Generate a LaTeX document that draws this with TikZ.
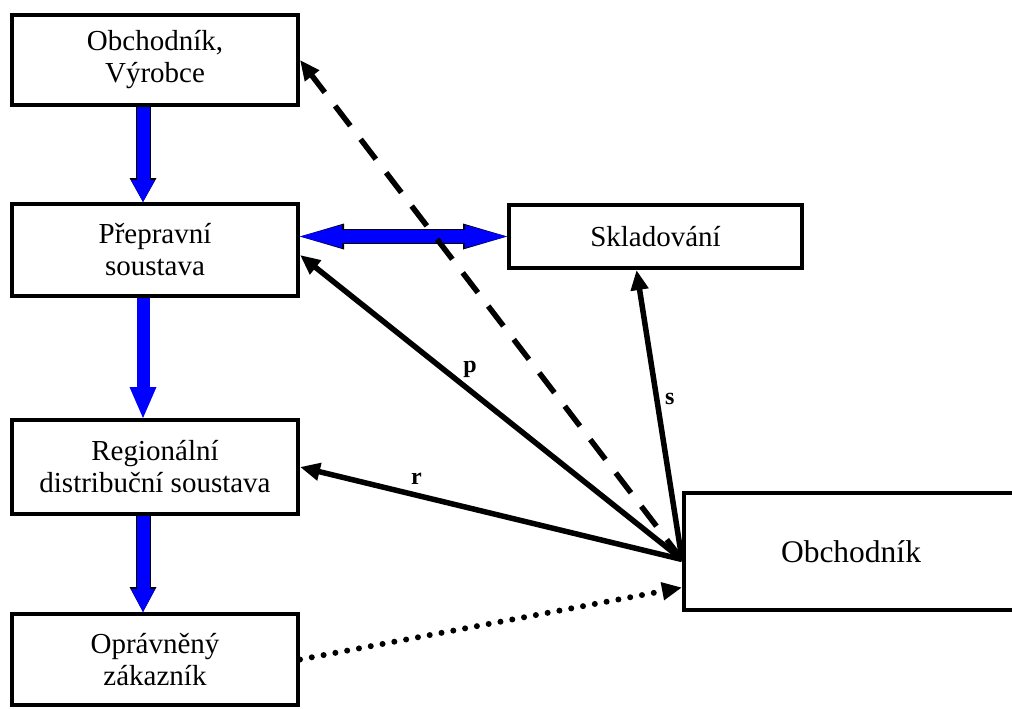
\documentclass[tikz,border=0pt]{standalone}
\usepackage{fontspec}
\setmainfont{Liberation Serif}
\usetikzlibrary{arrows.meta}
\definecolor{flowblue}{RGB}{0,0,255}
\tikzset{
  box/.style={draw, line width=4pt, rectangle, inner sep=0pt, align=center,
    minimum width=286pt, font=\fontsize{29}{32}\selectfont},
  link/.style={line width=5.5pt, -{Triangle[length=20pt,width=17pt]}},
  lbl/.style={inner sep=0pt, font=\fontsize{24}{24}\selectfont\bfseries},
  flow/.style 2 args={line width=13pt, flowblue, -{Triangle[length=#1,width=#2,line width=0pt]}},
  rim/.style 2 args={preaction={draw=black, line width=15pt, -{Triangle[length=#1,width=#2,line width=0pt]}}},
}

\begin{document}
\begin{tikzpicture}[x=1pt,y=-1pt]
\useasboundingbox (0,0) rectangle (1012,709);
% boxes
\node[box, minimum height=90pt] (A) at (155,60) {Obchodník,\\Výrobce};
\node[box, minimum height=92pt] (B) at (155,250) {Přepravní\\soustava};
\node[box, minimum width=293pt, minimum height=63pt] (C) at (655.5,236.5) {Skladování};
\node[box, minimum height=94pt] (D) at (155,467) {Regionální\\distribuční soustava};
\node[box, minimum height=91pt] (E) at (155,659.5) {Oprávněný\\zákazník};
\node[box, minimum width=334pt, minimum height=117pt, font=\fontsize{31.5}{34}\selectfont] (F) at (851,551.5) {Obchodník};
\coordinate (hub) at ([yshift=-8pt]F.west);
\coordinate (dotend) at ([yshift=-36pt]F.west);
% blue flow
\draw[rim={24pt}{27pt}, flow={22pt}{24pt}] ([xshift=-12pt]A.south) -- ([xshift=-12pt]B.north);
\draw[flow={31pt}{27pt}] ([xshift=-12pt]B.south) -- ([xshift=-12pt]D.north);
\draw[rim={25pt}{27pt}, flow={23pt}{24pt}] ([xshift=-12pt]D.south) -- ([xshift=-12pt]E.north);
\draw[line width=13pt, flowblue, {Triangle[length=42pt,width=23pt,line width=0pt]}-{Triangle[length=42pt,width=23pt,line width=0pt]},
  preaction={draw=black, line width=15pt, {Triangle[length=44pt,width=26pt,line width=0pt]}-{Triangle[length=44pt,width=26pt,line width=0pt]}}]
  (C.west -| B.east) -- (C.west);
% trader links
\draw[link, dash pattern=on 25pt off 17pt] (hub) -- (A.east);
\draw[link] (hub) -- ([yshift=-5pt]B.east) node[lbl, pos=0.555, yshift=21pt] (lp) {p};
\draw[link] (hub) -- ([xshift=-19pt]C.south) node[lbl, pos=0.556, xshift=13pt] (ls) {s};
\draw[link] (hub) -- (D.east) node[lbl, pos=0.695, yshift=16pt] (lr) {r};
\draw[link, line width=6pt, line cap=round, dash pattern=on 0pt off 12pt] (E.east) -- (dotend);
\end{tikzpicture}
\end{document}
